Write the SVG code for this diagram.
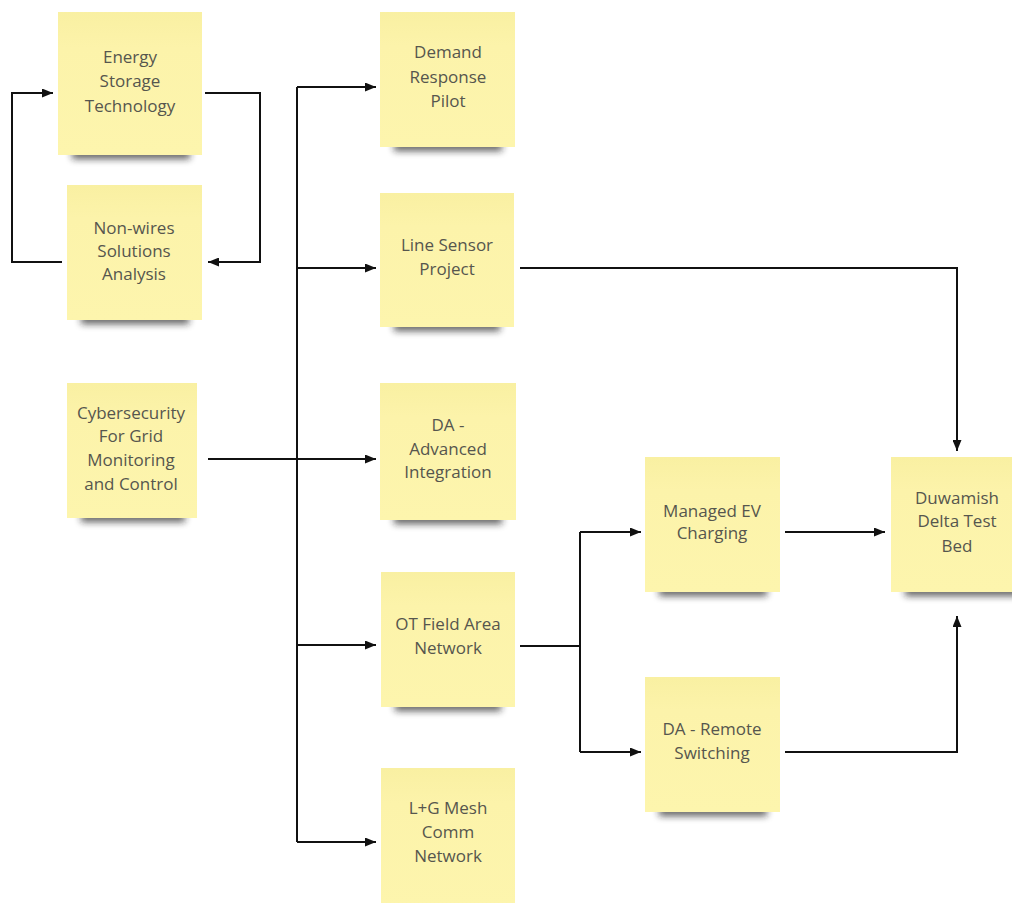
<svg xmlns="http://www.w3.org/2000/svg" width="1012" height="903" viewBox="0 0 1012 903">
<defs>
<style>
.note{fill:url(#paper)}
.sh{fill:#1e1e1e;opacity:.7;filter:url(#blur)}
.t{font-family:"Open Sans","Segoe UI","DejaVu Sans",sans-serif;font-size:17px;fill:#56564e;text-anchor:middle}
.c{fill:none;stroke:#111;stroke-width:2}
</style>
<linearGradient id="paper" x1="0" y1="0" x2="0" y2="1">
<stop offset="0" stop-color="#f9f0a2"/>
<stop offset="0.25" stop-color="#fcf3aa"/>
<stop offset="1" stop-color="#fdf5ad"/>
</linearGradient>
<filter id="blur" x="-20%" y="-100%" width="140%" height="300%"><feGaussianBlur stdDeviation="3.5"/></filter>
<marker id="ah" markerUnits="userSpaceOnUse" markerWidth="11" markerHeight="9" refX="11" refY="4.5" orient="auto"><path d="M0,0 L11,4.5 L0,9 z" fill="#111"/></marker>
</defs>
<rect width="1012" height="903" fill="#fff"/>

<g id="n-energy"><rect class="sh" x="72" y="150" width="118" height="9"/><rect class="note" x="58" y="12" width="144" height="143"/><text class="t" x="130" y="63">Energy</text><text class="t" x="130" y="87">Storage</text><text class="t" x="130" y="112">Technology</text></g>
<g id="n-nonwires"><rect class="sh" x="81" y="315" width="108" height="9"/><rect class="note" x="67" y="185" width="135" height="135"/><text class="t" x="134" y="234">Non-wires</text><text class="t" x="134" y="257">Solutions</text><text class="t" x="134" y="280">Analysis</text></g>
<g id="n-cyber"><rect class="sh" x="81" y="513" width="104" height="9"/><rect class="note" x="67" y="383" width="130" height="135"/><text class="t" x="131" y="419">Cybersecurity</text><text class="t" x="131" y="442">For Grid</text><text class="t" x="131" y="466">Monitoring</text><text class="t" x="131" y="490">and Control</text></g>
<g id="n-demand"><rect class="sh" x="394" y="142" width="108" height="9"/><rect class="note" x="380" y="12" width="135" height="135"/><text class="t" x="448" y="58">Demand</text><text class="t" x="448" y="83">Response</text><text class="t" x="448" y="107">Pilot</text></g>
<g id="n-linesensor"><rect class="sh" x="394" y="322" width="106" height="9"/><rect class="note" x="380" y="193" width="134" height="134"/><text class="t" x="447" y="251">Line Sensor</text><text class="t" x="447" y="275">Project</text></g>
<g id="n-daadv"><rect class="sh" x="394" y="515" width="108" height="9"/><rect class="note" x="380" y="383" width="136" height="137"/><text class="t" x="448" y="431">DA -</text><text class="t" x="448" y="455">Advanced</text><text class="t" x="448" y="478">Integration</text></g>
<g id="n-ot"><rect class="sh" x="395" y="702" width="106" height="9"/><rect class="note" x="381" y="572" width="134" height="135"/><text class="t" x="448" y="630">OT Field Area</text><text class="t" x="448" y="654">Network</text></g>
<g id="n-lg"><rect class="note" x="381" y="768" width="134" height="140"/><text class="t" x="448" y="814">L+G Mesh</text><text class="t" x="448" y="838">Comm</text><text class="t" x="448" y="862">Network</text></g>
<g id="n-ev"><rect class="sh" x="659" y="587" width="108" height="9"/><rect class="note" x="645" y="457" width="135" height="135"/><text class="t" x="712" y="517">Managed EV</text><text class="t" x="712" y="539">Charging</text></g>
<g id="n-remote"><rect class="sh" x="659" y="807" width="108" height="9"/><rect class="note" x="645" y="677" width="135" height="135"/><text class="t" x="712" y="735">DA - Remote</text><text class="t" x="712" y="759">Switching</text></g>
<g id="n-duwamish"><rect class="sh" x="905" y="587" width="115" height="9"/><rect class="note" x="891" y="457" width="132" height="135"/><text class="t" x="957" y="504">Duwamish</text><text class="t" x="957" y="527">Delta Test</text><text class="t" x="957" y="552">Bed</text></g>

<g id="connectors">
<path class="c" d="M205,93 H260 V262 H208" marker-end="url(#ah)"/>
<path class="c" d="M62,262 H12 V93 H53" marker-end="url(#ah)"/>
<path class="c" d="M297,87 V842"/>
<path class="c" d="M297,87 H376" marker-end="url(#ah)"/>
<path class="c" d="M297,268 H376" marker-end="url(#ah)"/>
<path class="c" d="M297,645 H376" marker-end="url(#ah)"/>
<path class="c" d="M297,842 H376" marker-end="url(#ah)"/>
<path class="c" d="M208,459 H376" marker-end="url(#ah)"/>
<path class="c" d="M520,268 H957 V451" marker-end="url(#ah)"/>
<path class="c" d="M520,646 H580"/>
<path class="c" d="M580,532 V752"/>
<path class="c" d="M580,532 H641" marker-end="url(#ah)"/>
<path class="c" d="M580,752 H641" marker-end="url(#ah)"/>
<path class="c" d="M785,532 H885" marker-end="url(#ah)"/>
<path class="c" d="M785,752 H957 V616" marker-end="url(#ah)"/>
</g>
</svg>
